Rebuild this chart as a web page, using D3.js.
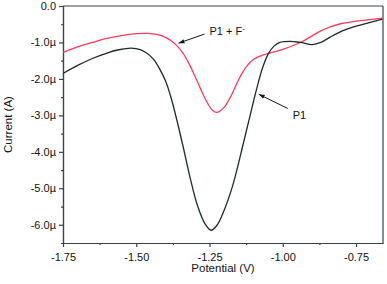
<!DOCTYPE html>
<html>
<head>
<meta charset="utf-8">
<script src="https://cdn.jsdelivr.net/npm/d3@7"></script>
<style>
  body { margin: 0; background: #fff; }
  text { font-family: "Liberation Sans", Arial, sans-serif; fill: #111; }
</style>
</head>
<body>
<div id="chart"></div>
<script>
// potential (V), current (µA)
let p1 = [
  [-1.75,-1.85],[-1.70,-1.63],[-1.65,-1.44],[-1.60,-1.29],[-1.56,-1.20],[-1.527,-1.16],
  [-1.50,-1.17],[-1.47,-1.26],[-1.44,-1.47],[-1.418,-1.76],[-1.40,-2.06],[-1.38,-2.55],
  [-1.36,-3.18],[-1.34,-3.86],[-1.315,-4.75],[-1.29,-5.50],[-1.265,-5.98],[-1.245,-6.15],
  [-1.225,-6.02],[-1.20,-5.60],[-1.17,-4.90],[-1.134,-3.75],[-1.11,-2.95],[-1.09,-2.30],
  [-1.07,-1.72],[-1.05,-1.32],[-1.03,-1.10],[-1.01,-1.00],[-0.975,-0.97],[-0.94,-1.00],
  [-0.90,-1.06],[-0.87,-1.00],[-0.84,-0.86],[-0.79,-0.66],[-0.73,-0.51],[-0.66,-0.36]
]
let p1f = [
  [-1.75,-1.27],[-1.70,-1.12],[-1.65,-1.00],[-1.60,-0.89],[-1.55,-0.81],[-1.50,-0.76],
  [-1.46,-0.75],[-1.43,-0.78],[-1.40,-0.86],[-1.38,-0.96],[-1.36,-1.10],[-1.34,-1.30],
  [-1.32,-1.58],[-1.30,-1.92],[-1.28,-2.28],[-1.26,-2.62],[-1.24,-2.86],[-1.226,-2.92],
  [-1.20,-2.78],[-1.18,-2.52],[-1.16,-2.18],[-1.14,-1.86],[-1.12,-1.62],[-1.10,-1.47],
  [-1.08,-1.38],[-1.05,-1.30],[-1.02,-1.24],[-1.00,-1.19],[-0.96,-1.07],[-0.93,-0.96],
  [-0.90,-0.82],[-0.87,-0.68],[-0.84,-0.58],[-0.80,-0.48],[-0.76,-0.43],[-0.72,-0.39],
  [-0.66,-0.33]
]
let xTicks = [-1.75, -1.50, -1.25, -1.00, -0.75]
let xMinor = [-1.625, -1.375, -1.125, -0.875]
let yTicks = [0, -1, -2, -3, -4, -5, -6]
let yMinor = [-0.5, -1.5, -2.5, -3.5, -4.5, -5.5, -6.5]

var width = 387, height = 284
var margin = {left: 63, right: 4, top: 6, bottom: 41}
var axisColor = '#34444a'

var svg = d3.select('#chart').append('svg')
  .attr('width', width)
  .attr('height', height)

var x = d3.scaleLinear().domain([-1.75, -0.658]).range([margin.left, width - margin.right])
var y = d3.scaleLinear().domain([-6.5, 0]).range([height - margin.bottom, margin.top])

// axes
var xAxis = svg.append('g')
  .attr('transform', `translate(0,${height - margin.bottom})`)
  .call(d3.axisBottom(x).tickValues(xTicks).tickFormat(d => d.toFixed(2)).tickSize(4).tickSizeOuter(0))
svg.append('g')
  .attr('transform', `translate(0,${height - margin.bottom})`)
  .call(d3.axisBottom(x).tickValues(xMinor).tickFormat('').tickSize(2).tickSizeOuter(0))

var yAxis = svg.append('g')
  .attr('transform', `translate(${margin.left},0)`)
  .call(d3.axisLeft(y).tickValues(yTicks)
    .tickFormat(d => d === 0 ? '0.0' : d.toFixed(1) + 'µ')
    .tickSize(4).tickSizeOuter(0))
svg.append('g')
  .attr('transform', `translate(${margin.left},0)`)
  .call(d3.axisLeft(y).tickValues(yMinor).tickFormat('').tickSize(2).tickSizeOuter(0))

svg.selectAll('.domain, .tick line').attr('stroke', axisColor).attr('stroke-width', 1.2)
svg.selectAll('.tick text')
  .style('font-family', '"Liberation Sans", Arial, sans-serif')
  .style('font-size', '11px')
  .attr('fill', '#111')
xAxis.selectAll('.tick text').attr('dy', '1.0em')
yAxis.selectAll('.tick text').attr('x', -7)

// frame top and right
svg.append('line')
  .attr('x1', x.range()[0]).attr('x2', x.range()[1])
  .attr('y1', y(0)).attr('y2', y(0))
  .attr('stroke', axisColor).attr('stroke-width', 1.2)
svg.append('line')
  .attr('x1', x.range()[1]).attr('x2', x.range()[1])
  .attr('y1', y(0)).attr('y2', y(-6.5))
  .attr('stroke', axisColor).attr('stroke-width', 1.2)

// axis titles
svg.append('text')
  .attr('x', (x.range()[0] + x.range()[1]) / 2)
  .attr('y', 272)
  .attr('text-anchor', 'middle')
  .style('font-size', '11.5px')
  .text('Potential (V)')
svg.append('text')
  .attr('transform', `translate(12,${(y(0) + y(-6.5)) / 2}) rotate(-90)`)
  .attr('text-anchor', 'middle')
  .style('font-size', '11.5px')
  .text('Current (A)')

// curves
var line = d3.line()
  .x(d => x(d[0]))
  .y(d => y(d[1]))
  .curve(d3.curveCatmullRom.alpha(0.5))

svg.append('path').datum(p1f)
  .attr('d', line)
  .attr('fill', 'none')
  .attr('stroke', '#ff3a5c')
  .attr('stroke-width', 1.3)

svg.append('path').datum(p1)
  .attr('d', line)
  .attr('fill', 'none')
  .attr('stroke', '#1d2a2a')
  .attr('stroke-width', 1.3)

// annotations
svg.append('defs').append('marker')
  .attr('id', 'arrow')
  .attr('viewBox', '0 0 10 10')
  .attr('refX', 10).attr('refY', 5)
  .attr('markerWidth', 6).attr('markerHeight', 6)
  .attr('orient', 'auto')
  .append('path')
  .attr('d', 'M0,1.5 L10,5 L0,8.5 Z')
  .attr('fill', '#111')

function annotate(from, to) {
  svg.append('line')
    .attr('x1', x(from[0])).attr('y1', y(from[1]))
    .attr('x2', x(to[0])).attr('y2', y(to[1]))
    .attr('stroke', '#111').attr('stroke-width', 1)
    .attr('marker-end', 'url(#arrow)')
}

annotate([-1.267, -0.77], [-1.356, -1.02])
annotate([-0.983, -2.81], [-1.082, -2.42])

var lab1 = svg.append('text')
  .attr('x', x(-1.25)).attr('y', y(-0.80))
  .style('font-size', '11px')
lab1.append('tspan').text('P1 + F')
lab1.append('tspan').attr('dy', -4).style('font-size', '8px').text('-')

svg.append('text')
  .attr('x', x(-0.966)).attr('y', y(-3.09))
  .style('font-size', '11px')
  .text('P1')
</script>
</body>
</html>
